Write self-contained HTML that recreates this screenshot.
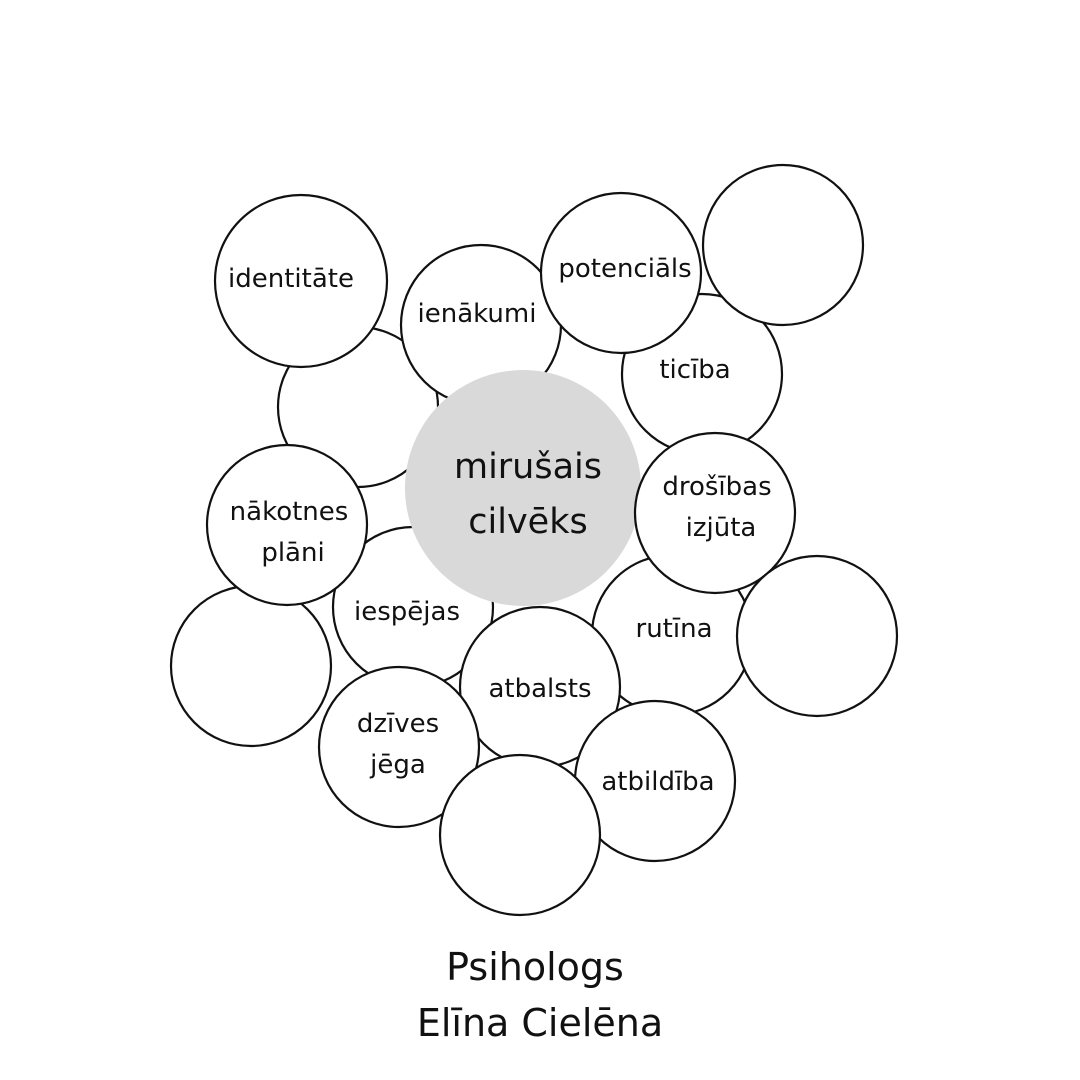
<!DOCTYPE html>
<html><head><meta charset="utf-8"><style>
html,body{margin:0;padding:0;background:#fff;}
svg{display:block;}
text{font-family:"DejaVu Sans","Liberation Sans",sans-serif;fill:#111;text-anchor:middle;}
</style></head><body>
<svg width="1080" height="1080" viewBox="0 0 1080 1080">
<g stroke="#111" stroke-width="2.2" fill="#fff">
<circle cx="358" cy="407" r="80"/>
<circle cx="301" cy="281" r="86"/>
<circle cx="481" cy="325" r="80"/>
<circle cx="702" cy="374" r="80"/>
<circle cx="621" cy="273" r="80"/>
<circle cx="783" cy="245" r="80"/>
<circle cx="251" cy="666" r="80"/>
<circle cx="413" cy="607" r="80"/>
<circle cx="287" cy="525" r="80"/>
<circle cx="523" cy="488" r="118" fill="#d9d9d9" stroke="none"/>
<circle cx="672" cy="635" r="80"/>
<circle cx="715" cy="513" r="80"/>
<circle cx="817" cy="636" r="80"/>
<circle cx="540" cy="687" r="80"/>
<circle cx="655" cy="781" r="80"/>
<circle cx="399" cy="747" r="80"/>
<circle cx="520" cy="835" r="80"/>
</g>
<g font-size="26">
<text x="291" y="287">identitāte</text>
<text x="477" y="322">ienākumi</text>
<text x="625" y="277">potenciāls</text>
<text x="695" y="378">ticība</text>
<text x="717" y="495">drošības</text>
<text x="721" y="536">izjūta</text>
<text x="289" y="520">nākotnes</text>
<text x="293" y="561">plāni</text>
<text x="407" y="620">iespējas</text>
<text x="674" y="637">rutīna</text>
<text x="540" y="697">atbalsts</text>
<text x="398" y="732">dzīves</text>
<text x="398" y="773">jēga</text>
<text x="658" y="790">atbildība</text>
</g>
<g font-size="35">
<text x="528" y="478">mirušais</text>
<text x="528" y="533">cilvēks</text>
</g>
<g font-size="38">
<text x="535" y="980">Psihologs</text>
<text x="540" y="1036">Elīna Cielēna</text>
</g>
</svg>
</body></html>
